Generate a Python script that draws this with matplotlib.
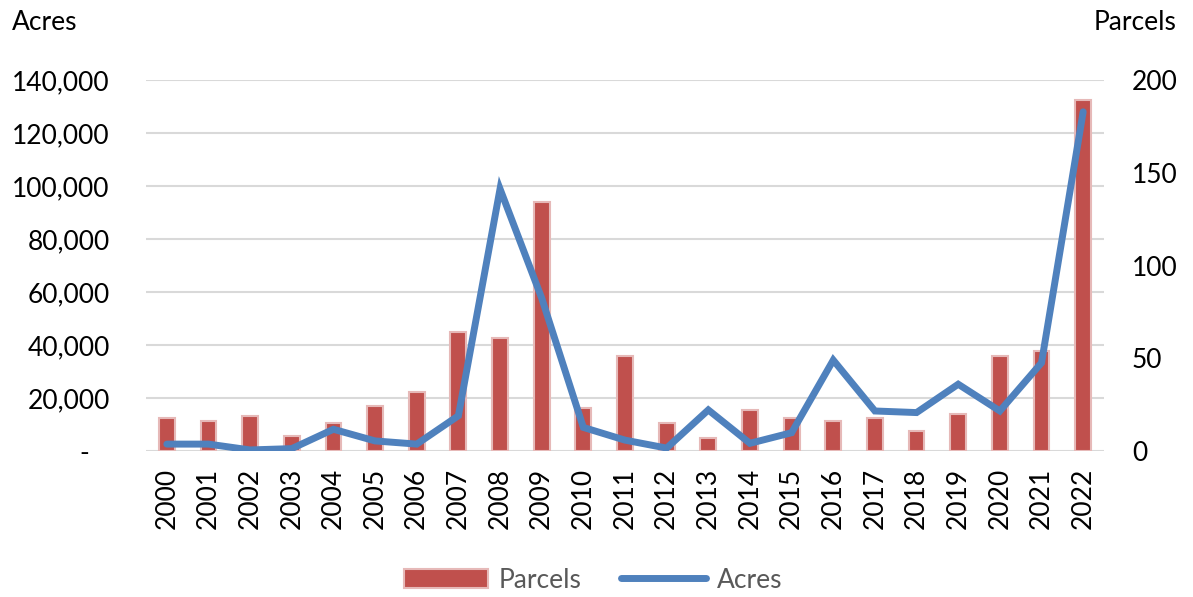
import matplotlib
matplotlib.use("Agg")
import matplotlib.pyplot as plt
from matplotlib.ticker import FuncFormatter
import numpy as np

years = [str(y) for y in range(2000, 2023)]
parcels = [18, 16, 19, 8, 15, 24, 32, 64, 61, 134, 23, 51, 15, 7, 22, 18, 16, 18, 11, 20, 51, 54, 189]
acres = [2600, 2600, 400, 900, 8200, 3800, 2600, 13300, 98900, 57700, 8900, 4100,
         1100, 15500, 2900, 6900, 34300, 15100, 14500, 25200, 15100, 33300, 128000]

acres_ticks = list(range(0, 140001, 20000))
parcel_ticks = [0, 50, 100, 150, 200]

plt.rcParams['font.family'] = ['Lato', 'DejaVu Sans']
fs = 19

fig = plt.figure(figsize=(11.93, 5.97), dpi=100)
ax = fig.add_axes([146/1193, 1-451/597, (1104-146)/1193, (451-80)/597])
ax2 = ax.twinx()
x = np.arange(len(years))

# bars (parcels) on the base axes, ticks on the right
ax.bar(x, parcels, width=0.38, color="#C0504D", edgecolor="#E6B9B8", linewidth=1.5, zorder=2, label="Parcels")
ax.set_ylim(0, 200)
ax.set_xlim(-0.5, len(years)-0.5)
for v in acres_ticks:
    ax.axhline(v*200/140000, color="#D9D9D9", lw=1.5, zorder=1)
ax.set_xticks(x)
ax.set_xticklabels(years, rotation=90, fontsize=fs)
ax.tick_params(axis='x', length=0, pad=12)
for s in ax.spines.values():
    s.set_visible(False)

# line (acres) on twin axes
ax2.plot(x, acres, color="#4F81BD", lw=5, solid_joinstyle='miter', solid_capstyle='round', label="Acres")
ax2.set_ylim(0, 140000)
for s in ax2.spines.values():
    s.set_visible(False)

# swap tick sides: acres on the left, parcels on the right
ax.yaxis.set_ticks_position('right')
ax.set_yticks(parcel_ticks)
ax.tick_params(axis='y', which='both', left=False, labelleft=False, right=False, labelright=True,
               length=0, pad=20, labelsize=fs)

ax2.yaxis.set_ticks_position('left')
ax2.set_yticks(acres_ticks)
ax2.yaxis.set_major_formatter(FuncFormatter(lambda v, p: "-   " if v == 0 else f"{int(v):,}"))
ax2.tick_params(axis='y', which='both', right=False, labelright=False, left=False, labelleft=True,
                length=0, pad=26, labelsize=fs)

fig.text(12/1193, 1-22/597, "Acres", fontsize=fs, va='center', ha='left')
fig.text(1176/1193, 1-22/597, "Parcels", fontsize=fs, va='center', ha='right')

h1, l1 = ax.get_legend_handles_labels()
h2, l2 = ax2.get_legend_handles_labels()
leg = fig.legend(h1+h2, l1+l2, loc='center', bbox_to_anchor=(593/1193, 1-580/597), ncol=2,
                 frameon=False, fontsize=fs, handlelength=3.2, columnspacing=1.5, handletextpad=0.4)
for t in leg.get_texts():
    t.set_color("#595959")

fig.savefig("out.png", dpi=100)
